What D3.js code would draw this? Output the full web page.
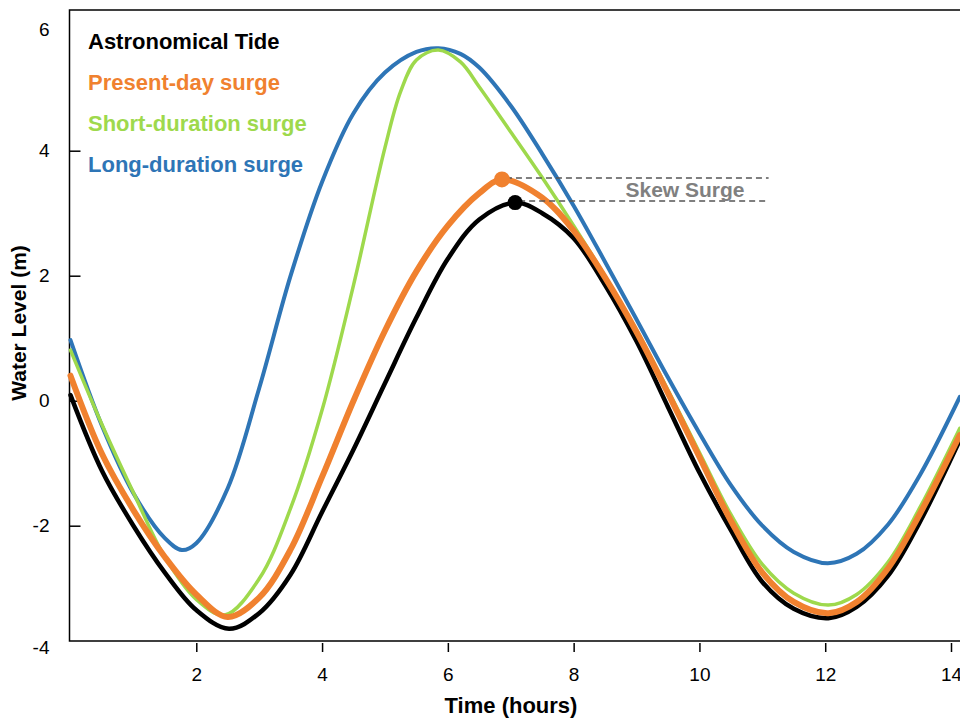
<!DOCTYPE html>
<html>
<head>
<meta charset="utf-8">
<script src="https://cdn.jsdelivr.net/npm/d3@7"></script>
<style>
    body { margin: 0; background: #fff; }
    svg { display: block; }
    text { font-family: "Liberation Sans", Arial, sans-serif; }
</style>
</head>
<body>
<div id="chart"></div>
<script>
// [hour, water level (m)]
const astronomicalTide = [
    [0, 0.09], [0.5, -1.12], [1.0, -2.0], [1.5, -2.75], [2.0, -3.35], [2.52, -3.65],
    [3.0, -3.4], [3.5, -2.78], [4.0, -1.78], [4.5, -0.78], [5.0, 0.28], [5.5, 1.33],
    [6.0, 2.27], [6.5, 2.9], [7.07, 3.17], [7.5, 3.0], [8.0, 2.6], [8.5, 1.85],
    [9.0, 0.95], [9.5, -0.1], [10.0, -1.15], [10.5, -2.07], [11.0, -2.9], [11.5, -3.33],
    [12.05, -3.48], [12.5, -3.3], [13.0, -2.8], [13.5, -1.95], [14.14, -0.63]
];
const presentDaySurge = [
    [0, 0.4], [0.5, -0.85], [1.0, -1.75], [1.5, -2.5], [2.0, -3.1], [2.5, -3.46],
    [3.0, -3.15], [3.5, -2.38], [4.0, -1.22], [4.5, 0.0], [5.0, 1.12], [5.5, 2.07],
    [6.0, 2.8], [6.5, 3.32], [6.86, 3.54], [7.5, 3.25], [8.0, 2.72], [8.5, 1.97],
    [9.0, 1.1], [9.5, 0.12], [10.0, -0.9], [10.5, -1.92], [11.0, -2.75], [11.5, -3.22],
    [12.05, -3.4], [12.5, -3.22], [13.0, -2.68], [13.5, -1.82], [14.14, -0.55]
];
const shortDurationSurge = [
    [0, 0.81], [0.5, -0.38], [1.0, -1.47], [1.5, -2.5], [2.0, -3.18], [2.45, -3.43],
    [3.0, -2.85], [3.5, -1.72], [4.0, -0.15], [4.5, 1.85], [5.0, 4.05], [5.25, 4.95],
    [5.5, 5.45], [5.85, 5.61], [6.2, 5.42], [6.5, 5.02], [7.0, 4.3], [7.5, 3.57],
    [8.0, 2.8], [8.5, 1.99], [9.0, 1.13], [9.5, 0.17], [10.0, -0.83], [10.5, -1.82],
    [11.0, -2.62], [11.5, -3.08], [12.05, -3.27], [12.5, -3.1], [13.0, -2.58],
    [13.5, -1.72], [14.14, -0.44]
];
const longDurationSurge = [
    [0, 0.97], [0.5, -0.4], [1.0, -1.48], [1.5, -2.2], [1.77, -2.39], [2.0, -2.28],
    [2.5, -1.4], [3.0, 0.2], [3.5, 2.0], [4.0, 3.5], [4.5, 4.6], [5.0, 5.25],
    [5.5, 5.58], [5.85, 5.64], [6.2, 5.55], [6.5, 5.33], [7.0, 4.72], [7.5, 3.95],
    [8.0, 3.12], [8.5, 2.22], [9.0, 1.3], [9.5, 0.37], [10.0, -0.52], [10.5, -1.35],
    [11.0, -2.0], [11.5, -2.42], [12.04, -2.6], [12.5, -2.45], [13.0, -1.98],
    [13.5, -1.2], [14.14, 0.06]
];

const seriesNames = ['Astronomical Tide', 'Present-day surge', 'Short-duration surge', 'Long-duration surge'];
const seriesColors = ['#000000', '#F0812F', '#9ED94C', '#2E75B6'];
const xTicks = [2, 4, 6, 8, 10, 12, 14];
const yTicks = [-4, -2, 0, 2, 4, 6];
const skewSurgeEndHour = 11.1;

const width = 960;
const height = 718;

const svg = d3.select('#chart').append('svg')
    .attr('width', width)
    .attr('height', height);

const x = d3.scaleLinear().domain([0, 14]).range([70.5, 951]);
const y = d3.scaleLinear().domain([-4, 6]).range([650.7, 25.7]);

const plotTop = 10;
const plotBottom = 641;
const plotLeft = 69.5;

// frame: left, top and bottom lines
svg.append('path')
    .attr('d', `M${width},${plotTop}H${plotLeft}V${plotBottom}H${width}`)
    .attr('fill', 'none')
    .attr('stroke', '#000')
    .attr('stroke-width', 1.5);

// x axis ticks sit below the frame
const xAxis = svg.append('g')
    .attr('transform', `translate(0, ${plotBottom + 2})`)
    .call(d3.axisBottom(x).tickValues(xTicks).tickSize(9).tickPadding(16).tickFormat(d => String(d)));
xAxis.select('.domain').remove();
xAxis.selectAll('line').attr('stroke', '#000').attr('stroke-width', 1.5);
xAxis.selectAll('text').style('font-size', '19px').attr('fill', '#000');

// y axis: ticks point inward
const yAxis = svg.append('g')
    .attr('transform', `translate(${plotLeft}, 0)`)
    .call(d3.axisLeft(y).tickValues(yTicks).tickSize(0).tickPadding(20).tickFormat(d => String(d)));
yAxis.select('.domain').remove();
yAxis.selectAll('text').style('font-size', '19px').attr('fill', '#000');
yAxis.selectAll('.tick').filter(d => d === -4).select('text').attr('dy', '0.15em');
yAxis.selectAll('.tick').filter(d => d === 6).select('text').attr('dy', '0.5em');
yAxis.selectAll('.tick').filter(d => d > -4 && d < 6).select('line')
    .attr('x2', 11).attr('stroke', '#000').attr('stroke-width', 1.5);

svg.append('text')
    .attr('x', 511)
    .attr('y', 713)
    .attr('text-anchor', 'middle')
    .style('font-size', '22px')
    .style('font-weight', 'bold')
    .text('Time (hours)');

svg.append('text')
    .attr('transform', 'translate(26, 323) rotate(-90)')
    .attr('text-anchor', 'middle')
    .style('font-size', '21px')
    .style('font-weight', 'bold')
    .text('Water Level (m)');

const line = d3.line()
    .x(d => x(d[0]))
    .y(d => y(d[1]))
    .curve(d3.curveCatmullRom.alpha(0.5));

const drawOrder = [
    { data: astronomicalTide, color: seriesColors[0], w: 4.5 },
    { data: longDurationSurge, color: seriesColors[3], w: 4 },
    { data: shortDurationSurge, color: seriesColors[2], w: 3.5 },
    { data: presentDaySurge, color: seriesColors[1], w: 6 }
];

svg.selectAll('.series')
    .data(drawOrder)
    .enter()
    .append('path')
    .attr('class', 'series')
    .attr('d', d => line(d.data))
    .attr('fill', 'none')
    .attr('stroke', d => d.color)
    .attr('stroke-width', d => d.w)
    .attr('stroke-linejoin', 'round')
    .attr('stroke-linecap', 'round');

// skew surge: peaks of tide and present-day surge
const tidePeak = astronomicalTide.reduce((a, b) => (b[1] > a[1] ? b : a));
const surgePeak = presentDaySurge.reduce((a, b) => (b[1] > a[1] ? b : a));

svg.selectAll('.skew-line')
    .data([surgePeak, tidePeak])
    .enter()
    .append('line')
    .attr('class', 'skew-line')
    .attr('x1', d => x(d[0]) + 4)
    .attr('x2', x(skewSurgeEndHour))
    .attr('y1', d => y(d[1]) - 1.5)
    .attr('y2', d => y(d[1]) - 1.5)
    .attr('stroke', '#555')
    .attr('stroke-width', 1.5)
    .attr('stroke-dasharray', '6,4');

svg.selectAll('.peak')
    .data([
        { p: surgePeak, color: seriesColors[1], r: 8 },
        { p: tidePeak, color: seriesColors[0], r: 7.5 }
    ])
    .enter()
    .append('circle')
    .attr('class', 'peak')
    .attr('cx', d => x(d.p[0]))
    .attr('cy', d => y(d.p[1]))
    .attr('r', d => d.r)
    .attr('fill', d => d.color);

svg.append('text')
    .attr('x', 685)
    .attr('y', (y(surgePeak[1]) + y(tidePeak[1])) / 2 - 1.5)
    .attr('dy', '0.36em')
    .attr('text-anchor', 'middle')
    .attr('fill', '#808080')
    .style('font-size', '21px')
    .style('font-weight', 'bold')
    .text('Skew Surge');

// legend
svg.selectAll('.legend')
    .data(seriesNames)
    .enter()
    .append('text')
    .attr('class', 'legend')
    .attr('x', 88)
    .attr('y', (d, i) => 48.5 + i * 41.3)
    .attr('fill', (d, i) => seriesColors[i])
    .style('font-size', '22px')
    .style('font-weight', 'bold')
    .text(d => d);
</script>
</body>
</html>
